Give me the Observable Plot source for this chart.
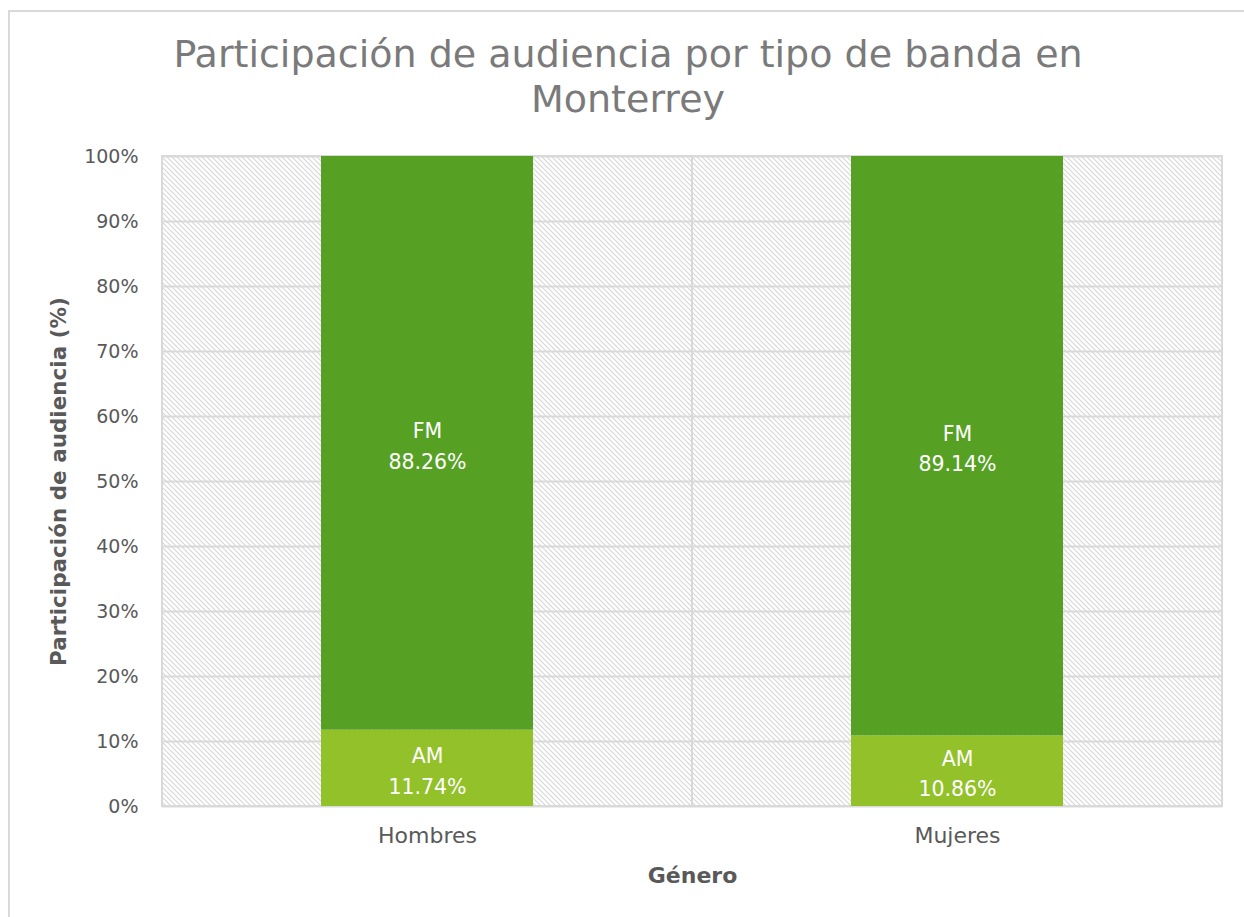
<!DOCTYPE html>
<html>
<head>
<meta charset="utf-8">
<script src="https://cdn.jsdelivr.net/npm/d3@7"></script>
<script src="https://cdn.jsdelivr.net/npm/@observablehq/plot@0.6"></script>
<style>
  html, body { margin: 0; padding: 0; background: #fff; overflow: hidden; }
  #wrap { position: relative; width: 1244px; height: 917px; }
  #frame { position: absolute; left: 8px; top: 10px; width: 1300px; height: 1000px;
           border-left: 2px solid #d9d9d9; border-top: 2px solid #d9d9d9; pointer-events: none; }
  #title { height: 135px; box-sizing: border-box; padding-top: 32px; padding-left: 12px;
           text-align: center; font-family: "Century Gothic", "DejaVu Sans", sans-serif;
           font-size: 38px; line-height: 45px; color: #7a7a7a; font-weight: normal; }
  svg { display: block; }
</style>
</head>
<body>
<div id="wrap">
  <div id="frame"></div>
  <div id="title">Participación de audiencia por tipo de banda en<br>Monterrey</div>
  <div id="chart"></div>
</div>
<script>
const categories = ["Hombres", "Mujeres"];
const bandTypes = ["AM", "FM"];
const amValues = [11.74, 10.86];
const fmValues = [88.26, 89.14];
const yTicks = [0, 10, 20, 30, 40, 50, 60, 70, 80, 90, 100];
const colors = ["#92C12A", "#56A124"];

const data = categories.flatMap((c, i) => [
  {genero: c, banda: "AM", value: amValues[i]},
  {genero: c, banda: "FM", value: fmValues[i]}
]);

const svg = Plot.plot({
  width: 1244,
  height: 782,
  marginLeft: 162,
  marginRight: 22,
  marginTop: 21,
  marginBottom: 111,
  style: {fontFamily: "'Century Gothic', 'DejaVu Sans', sans-serif", fontSize: "19px", color: "#595959", background: "transparent"},
  x: {domain: categories, padding: 0},
  y: {domain: [0, 100]},
  color: {domain: bandTypes, range: colors},
  marks: [
    Plot.barY(categories, {x: d => d, y1: 0, y2: 100, fill: "url(#hatch)", stroke: "#d9d9d9", strokeWidth: 2}),
    Plot.ruleY(yTicks, {stroke: "#d9d9d9", strokeWidth: 2}),
    Plot.barY(data, Plot.stackY({x: "genero", y: "value", fill: "banda", insetLeft: 159, insetRight: 159})),
    Plot.text(data, Plot.stackY({x: "genero", y: "value", text: d => `${d.banda}\n${d.value.toFixed(2)}%`, fill: "white", fontSize: 20.5, lineHeight: 1.5})),
    Plot.axisY(yTicks, {tickSize: 0, tickPadding: 24, tickFormat: d => d + "%", label: "Participación de audiencia (%)", labelAnchor: "center", labelArrow: "none", labelOffset: 112, fill: "#595959"}),
    Plot.axisX({tickSize: 0, tickPadding: 21, fontSize: 22, label: "Género", labelAnchor: "center", labelArrow: "none", labelOffset: 76, fill: "#595959"})
  ]
});

const defs = d3.select(svg).insert("defs", ":first-child");
const pat = defs.append("pattern").attr("id", "hatch").attr("patternUnits", "userSpaceOnUse")
  .attr("width", 5).attr("height", 5);
pat.append("rect").attr("width", 5).attr("height", 5).attr("fill", "#ffffff");
pat.append("path").attr("d", "M0,0 L5,5 M-1,4 L1,6 M4,-1 L6,1")
  .attr("stroke", "#d6d6d6").attr("stroke-width", 1.1);

d3.select(svg).selectAll("[aria-label='y-axis label'] text")
  .style("font-weight", "bold").style("font-size", "21.5px");
d3.select(svg).selectAll("[aria-label='x-axis label'] text")
  .style("font-weight", "bold").style("font-size", "22px");

document.getElementById("chart").appendChild(svg);
</script>
</body>
</html>
